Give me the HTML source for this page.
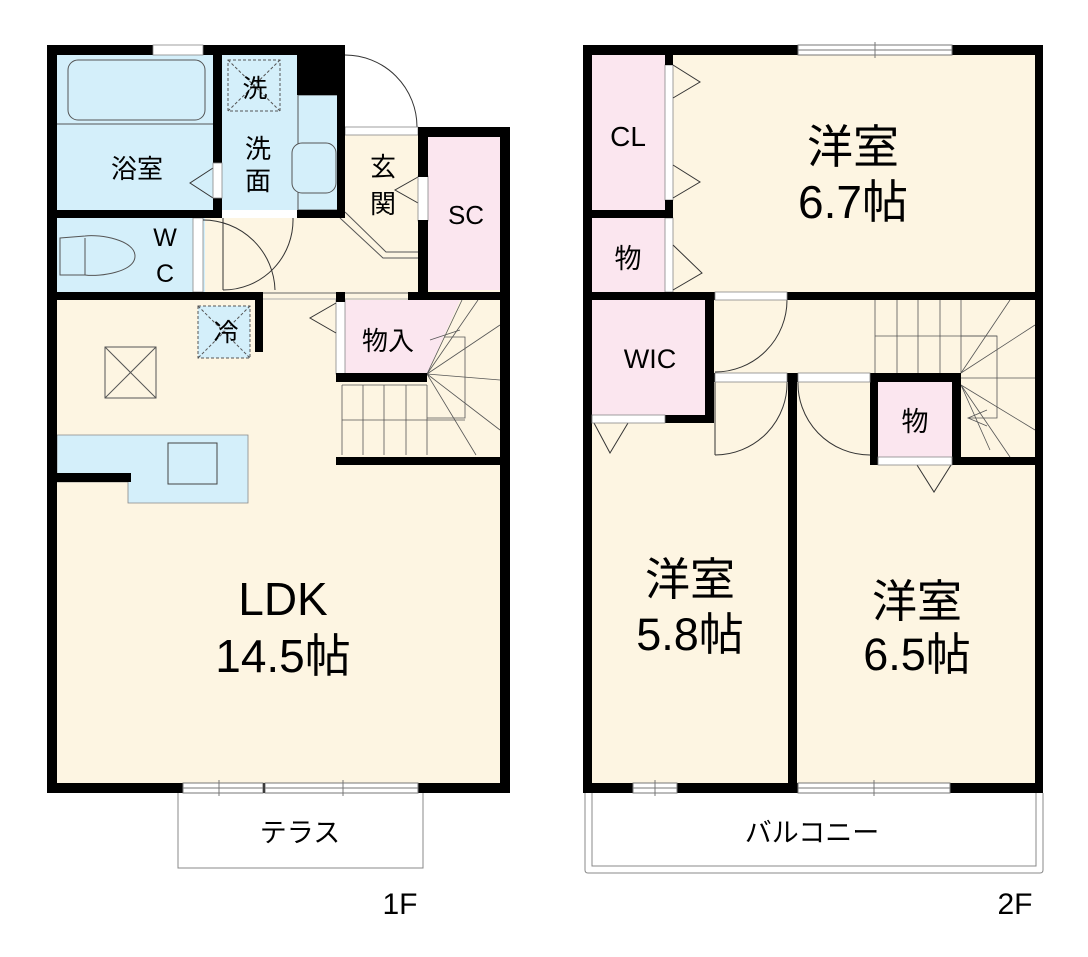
<!DOCTYPE html>
<html><head><meta charset="utf-8"><style>
html,body{margin:0;padding:0;background:#fff;}
svg{display:block;}
text{font-family:"Liberation Sans","Noto Sans CJK JP",sans-serif;fill:#000;text-anchor:middle;}
</style></head><body>
<svg width="1088" height="957" viewBox="0 0 1088 957" xmlns="http://www.w3.org/2000/svg">
<!-- ===== 1F fills ===== -->
<polygon points="50,50 345,50 345,130 505,130 505,788 50,788" fill="#fdf5e2"/>
<rect x="57" y="55" width="160" height="157" fill="#d4effa"/>
<rect x="222" y="55" width="118" height="157" fill="#d4effa"/>
<rect x="57" y="218" width="148" height="74" fill="#d4effa"/>
<rect x="428" y="137" width="72" height="153" fill="#fbe6ef"/>
<rect x="345" y="300" width="80" height="74" fill="#fbe6ef"/>
<polygon points="425,300 460,300 427,374 425,374" fill="#fbe6ef"/>
<rect x="345" y="45" width="75" height="85" fill="#fff"/>
<!-- bath tub -->
<rect x="68" y="60" width="137" height="60" rx="10" fill="none" stroke="#555" stroke-width="1"/>
<line x1="57" y1="124" x2="213" y2="124" stroke="#555" stroke-width="1"/>
<polyline points="213,168 190,183 213,198" fill="none" stroke="#333" stroke-width="1"/>
<!-- 洗 dashed box -->
<rect x="228" y="60" width="52" height="51" fill="none" stroke="#555" stroke-dasharray="3,2"/>
<line x1="228" y1="60" x2="280" y2="111" stroke="#555" stroke-dasharray="3,2"/>
<line x1="280" y1="60" x2="228" y2="111" stroke="#555" stroke-dasharray="3,2"/>
<!-- basin -->
<rect x="298" y="95" width="40" height="115" fill="#d4effa" stroke="#555" stroke-width="1"/>
<rect x="292" y="143" width="44" height="50" rx="10" fill="#d4effa" stroke="#555"/>
<!-- toilet -->
<path d="M60,238 L85,236 C100,234 135,240 135,256 C135,272 100,277 85,275 L60,275 Z" fill="#d4effa" stroke="#555"/>
<line x1="85" y1="238" x2="85" y2="275" stroke="#555"/>
<!-- WC door -->
<rect x="193" y="218" width="10" height="74" fill="#fff" stroke="#888" stroke-width="0.8"/>
<path d="M203,220 A72,72 0 0 1 275,290" fill="none" stroke="#333"/>
<line x1="223" y1="218" x2="223" y2="290" stroke="#333"/>
<path d="M223,290 A70,70 0 0 0 293,218" fill="none" stroke="#333"/>
<rect x="222" y="210" width="75" height="8" fill="#fff"/>
<!-- entrance door -->
<path d="M345,55 A72,72 0 0 1 417,127" fill="none" stroke="#333"/>
<rect x="345" y="127" width="73" height="8" fill="#fff" stroke="#888" stroke-width="0.8"/>
<polyline points="340,218 383,258 418,258" fill="none" stroke="#555" stroke-width="1"/>
<polyline points="345,212 386,252 418,252" fill="none" stroke="#555" stroke-width="1"/>
<polyline points="418,177 395,190 418,203" fill="none" stroke="#333"/>
<rect x="418" y="176" width="10" height="45" fill="#fff" stroke="#888" stroke-width="0.8"/>
<!-- 冷 -->
<rect x="198" y="306" width="52" height="52" fill="#d4effa" stroke="#555" stroke-dasharray="3,2"/>
<line x1="198" y1="306" x2="250" y2="358" stroke="#555" stroke-dasharray="3,2"/>
<line x1="250" y1="306" x2="198" y2="358" stroke="#555" stroke-dasharray="3,2"/>
<line x1="263" y1="293" x2="408" y2="293" stroke="#666"/>
<line x1="263" y1="299" x2="408" y2="299" stroke="#aaa"/>
<!-- kitchen -->
<rect x="105" y="347" width="51" height="51" fill="none" stroke="#555"/>
<line x1="105" y1="347" x2="156" y2="398" stroke="#555"/>
<line x1="156" y1="347" x2="105" y2="398" stroke="#555"/>
<polygon points="57,435 248,435 248,503 128,503 128,482 57,482" fill="#d4effa" stroke="#888" stroke-width="0.8"/>
<rect x="168" y="443" width="49" height="41" fill="#d4effa" stroke="#444"/>
<rect x="47" y="473" width="84" height="9" fill="#000"/>
<!-- 物入 door -->
<rect x="336" y="300" width="9" height="74" fill="#fff" stroke="#888" stroke-width="0.8"/>
<polyline points="336,303 310,318 336,333" fill="none" stroke="#333"/>
<!-- stairs 1F -->
<g stroke="#555" stroke-width="0.8" fill="none">
<line x1="342" y1="385" x2="427" y2="385"/>
<line x1="342" y1="420" x2="465" y2="420"/>
<line x1="342" y1="385" x2="342" y2="455"/>
<line x1="363" y1="385" x2="363" y2="455"/>
<line x1="384" y1="385" x2="384" y2="455"/>
<line x1="406" y1="385" x2="406" y2="455"/>
<line x1="427" y1="385" x2="427" y2="455"/>
<polyline points="444,337 465,337 465,418 427,418"/>
<line x1="427" y1="374" x2="462" y2="300"/>
<line x1="427" y1="374" x2="478" y2="300"/>
<line x1="427" y1="374" x2="500" y2="325"/>
<line x1="427" y1="374" x2="500" y2="380"/>
<line x1="427" y1="374" x2="500" y2="430"/>
<line x1="427" y1="374" x2="476" y2="455"/>
<line x1="430" y1="340" x2="460" y2="330"/>
</g>
<!-- 1F walls -->
<g fill="#000">
<rect x="47" y="45" width="298" height="10"/>
<rect x="297" y="45" width="48" height="50"/>
<rect x="337" y="45" width="8" height="173"/>
<rect x="47" y="45" width="10" height="748"/>
<rect x="47" y="210" width="175" height="8"/>
<rect x="297" y="210" width="48" height="8"/>
<rect x="213" y="55" width="9" height="108"/>
<rect x="213" y="198" width="9" height="20"/>
<rect x="418" y="127" width="92" height="10"/>
<rect x="418" y="127" width="10" height="50"/>
<rect x="418" y="220" width="10" height="80"/>
<rect x="500" y="127" width="10" height="666"/>
<rect x="47" y="292" width="216" height="8"/>
<rect x="255" y="292" width="8" height="60"/>
<rect x="408" y="292" width="102" height="8"/>
<rect x="336" y="292" width="9" height="10"/>
<rect x="336" y="373" width="91" height="9"/>
<rect x="336" y="457" width="174" height="8"/>
<rect x="47" y="783" width="463" height="10"/>
</g>
<rect x="213" y="163" width="9" height="35" fill="#fff" stroke="#888" stroke-width="0.8"/>
<rect x="153" y="45" width="50" height="10" fill="#fff" stroke="#888" stroke-width="0.8"/>
<!-- 1F windows -->
<g fill="#fff" stroke="#777" stroke-width="1">
<rect x="183" y="783" width="80" height="10"/>
<rect x="265" y="783" width="153" height="10"/>
<line x1="183" y1="788" x2="263" y2="788"/>
<line x1="265" y1="788" x2="418" y2="788"/>
<line x1="219" y1="780" x2="219" y2="796"/>
<line x1="343" y1="780" x2="343" y2="796"/>
</g>
<polyline points="178,793 178,868 423,868 423,793" fill="none" stroke="#888"/>

<!-- ===== 2F ===== -->
<rect x="587" y="50" width="452" height="738" fill="#fdf5e2"/>
<rect x="592" y="55" width="73" height="237" fill="#fbe6ef"/>
<rect x="592" y="300" width="113" height="115" fill="#fbe6ef"/>
<rect x="878" y="382" width="74" height="75" fill="#fbe6ef"/>
<!-- closet doors -->
<rect x="665" y="65" width="8" height="135" fill="#fff" stroke="#888" stroke-width="0.8"/>
<rect x="665" y="218" width="8" height="74" fill="#fff" stroke="#888" stroke-width="0.8"/>
<g fill="none" stroke="#333">
<polyline points="673,65 700,82 673,98"/>
<polyline points="673,165 700,182 673,198"/>
<polyline points="673,245 702,273 673,290"/>
<polyline points="594,423 610,453 628,423"/>
<polyline points="917,465 934,492 951,465"/>
<path d="M787,300 A72,72 0 0 1 715,372"/>
<path d="M787,380 A72,72 0 0 1 715,455"/>
<line x1="715" y1="380" x2="715" y2="455"/>
<path d="M798,380 A72,72 0 0 0 870,455"/>
</g>
<!-- stairs 2F -->
<g stroke="#555" stroke-width="0.8" fill="none">
<line x1="875" y1="336" x2="997" y2="336"/>
<line x1="875" y1="300" x2="875" y2="373"/>
<line x1="897" y1="300" x2="897" y2="373"/>
<line x1="918" y1="300" x2="918" y2="373"/>
<line x1="940" y1="300" x2="940" y2="373"/>
<line x1="961" y1="300" x2="961" y2="373"/>
<polyline points="961,336 997,336 997,418 968,418"/>
<line x1="961" y1="378" x2="1035" y2="378"/>
<line x1="961" y1="373" x2="1010" y2="300"/>
<line x1="961" y1="373" x2="1035" y2="325"/>
<line x1="961" y1="385" x2="1035" y2="430"/>
<line x1="961" y1="385" x2="1010" y2="457"/>
<line x1="961" y1="385" x2="990" y2="450"/>
<polyline points="987,410 968,418 987,426"/>
</g>
<!-- 2F walls -->
<g fill="#000">
<rect x="583" y="45" width="460" height="10"/>
<rect x="583" y="45" width="9" height="748"/>
<rect x="1035" y="45" width="8" height="748"/>
<rect x="592" y="210" width="81" height="8"/>
<rect x="665" y="55" width="8" height="10"/>
<rect x="665" y="200" width="8" height="18"/>
<rect x="583" y="292" width="460" height="8"/>
<rect x="705" y="300" width="9" height="123"/>
<rect x="665" y="415" width="49" height="8"/>
<rect x="583" y="415" width="9" height="8"/>
<rect x="714" y="373" width="247" height="9"/>
<rect x="788" y="373" width="9" height="420"/>
<rect x="870" y="373" width="8" height="92"/>
<rect x="952" y="373" width="9" height="92"/>
<rect x="952" y="457" width="91" height="8"/>
<rect x="583" y="783" width="460" height="10"/>
</g>
<g fill="#fff" stroke="#888" stroke-width="0.8">
<rect x="715" y="292" width="72" height="8"/>
<rect x="715" y="373" width="72" height="9"/>
<rect x="798" y="373" width="72" height="9"/>
<rect x="592" y="415" width="73" height="8"/>
<rect x="878" y="457" width="74" height="8"/>
</g>
<g fill="#fff" stroke="#777" stroke-width="1">
<rect x="798" y="45" width="154" height="10"/>
<line x1="798" y1="50" x2="952" y2="50"/>
<line x1="875" y1="42" x2="875" y2="58"/>
<rect x="633" y="783" width="44" height="10"/>
<line x1="633" y1="788" x2="677" y2="788"/>
<line x1="655" y1="780" x2="655" y2="796"/>
<rect x="798" y="783" width="152" height="10"/>
<line x1="798" y1="788" x2="950" y2="788"/>
<line x1="874" y1="780" x2="874" y2="796"/>
</g>
<path d="M585,793 L585,870 Q585,873 588,873 L1040,873 Q1043,873 1043,870 L1043,793" fill="none" stroke="#888"/>
<polyline points="592,793 592,866 1036,866 1036,793" fill="none" stroke="#888"/>

<!-- ===== labels ===== -->
<text x="137" y="178" font-size="26">浴室</text>
<text x="255" y="97" font-size="25">洗</text>
<text x="258" y="158" font-size="26">洗</text>
<text x="258" y="190" font-size="26">面</text>
<text x="383" y="176" font-size="26">玄</text>
<text x="383" y="213" font-size="26">関</text>
<text x="466" y="224" font-size="26">SC</text>
<text x="165" y="246" font-size="25">W</text>
<text x="165" y="282" font-size="25">C</text>
<text x="226" y="341" font-size="25">冷</text>
<text x="388" y="350" font-size="26">物入</text>
<text x="283" y="615" font-size="46">LDK</text>
<text x="283" y="672" font-size="46">14.5帖</text>
<text x="300" y="842" font-size="27">テラス</text>
<text x="400" y="914" font-size="30">1F</text>
<text x="853" y="163" font-size="46">洋室</text>
<text x="853" y="218" font-size="46">6.7帖</text>
<text x="628" y="146" font-size="28">CL</text>
<text x="628" y="268" font-size="27">物</text>
<text x="650" y="368" font-size="27">WIC</text>
<text x="915" y="431" font-size="27">物</text>
<text x="690" y="595" font-size="45">洋室</text>
<text x="690" y="650" font-size="45">5.8帖</text>
<text x="917" y="617" font-size="45">洋室</text>
<text x="917" y="670" font-size="45">6.5帖</text>
<text x="812" y="842" font-size="27">バルコニー</text>
<text x="1015" y="914" font-size="30">2F</text>
</svg>
</body></html>
